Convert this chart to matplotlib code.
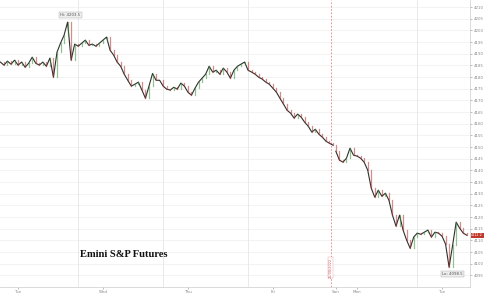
import matplotlib
matplotlib.use("Agg")
import matplotlib.pyplot as plt
import numpy as np

# ---- data (hours since Tuesday 00:00, weekend collapsed) ----
hours_week1 = np.arange(-5, 90, 1.0)          # Mon 19:00 -> Fri 17:00
prices_week1 = [
    4186.4, 4185.1, 4186.8, 4185.5, 4187.2, 4185.1, 4186.4, 4184.2, 4185.9, 4188.5,
    4185.9, 4185.1, 4186.4, 4184.6, 4188.1, 4179.9, 4190.6, 4194.5, 4197.9, 4203.5,
    4187.2, 4194.1, 4193.2, 4194.5, 4195.8, 4193.6, 4194.1, 4193.2, 4194.5, 4195.8,
    4197.1, 4191.5, 4189.4, 4186.4, 4184.6, 4181.2, 4178.6, 4176.1, 4176.9, 4177.8,
    4174.4, 4170.9, 4176.1, 4181.5, 4178.6, 4178.6, 4176.1, 4174.8, 4174.4, 4175.6,
    4174.8, 4177.4, 4176.1, 4173.5, 4172.2, 4175.2, 4177.8, 4179.5, 4181.2, 4184.6,
    4182.1, 4182.9, 4181.2, 4183.8, 4182.1, 4179.5, 4182.9, 4184.6, 4185.5, 4186.4,
    4182.9, 4182.1, 4181.2, 4179.9, 4179.1, 4177.8, 4176.9, 4175.2, 4173.5, 4170.9,
    4168.4, 4165.8, 4164.5, 4162.4, 4164.1, 4162.8, 4160.6, 4158.9, 4156.4, 4157.6,
    4155.5, 4154.2, 4152.5, 4151.6, 4150.8,
]
hours_week2 = np.arange(89.8, 127.0, 1.0)     # Sun 18:00 -> Tue
prices_week2 = [
    4148.2, 4144.4, 4143.5, 4145.2, 4149.5, 4146.5, 4146.1, 4145.2, 4143.5, 4140.1,
    4132.4, 4128.5, 4131.5, 4128.9, 4130.2, 4127.2, 4120.8, 4116.1, 4120.8, 4114.4,
    4110.1, 4106.6, 4111.4, 4113.1, 4112.6, 4113.5, 4114.4, 4111.4, 4113.5, 4113.1,
    4111.8, 4108.4, 4098.5, 4107.9, 4117.8, 4115.2, 4113.1, 4112.2,
]
tick_hours = [0, 24, 48, 72, 89.8, 95.8, 119.8]
tick_labels = ["Tue", "Wed", "Thu", "Fri", "Sun", "Mon", "Tue"]
session_close_hours = [17, 41, 65, 112.8]
weekend_marker_hour = 88.3
hi_label = "Hi: 4203.5"
lo_label = "Lo: 4098.5"
last_price = 4112.2
title = "Emini S&P Futures"

x = np.concatenate([hours_week1, hours_week2])
y = np.array(prices_week1 + prices_week2)

fig = plt.figure(figsize=(4.85, 2.95), dpi=100)
ax = fig.add_axes([0.0, 0.027, 0.969, 0.973])
ax.set_xlim(-5.1, 127.7)
ax.set_ylim(4090, 4213)

# grid
for yt in np.arange(4095, 4213, 5):
    ax.axhline(yt, color="#f1f1f1", lw=0.6, zorder=0)
for xv in session_close_hours:
    ax.axvline(xv, color="#e6e6e6", lw=0.6, zorder=0)
ax.axvline(weekend_marker_hour, color="#e08080", lw=0.6, ls=(0, (2, 2)), zorder=1)
ax.text(weekend_marker_hour, 4094, "26/08/2022", rotation=90, fontsize=2.5,
        color="#d06060", ha="center", va="bottom", zorder=3,
        bbox=dict(boxstyle="square,pad=0.2", fc="white", ec="#e0a0a0", lw=0.3))

# price line
for xs, ys in ((hours_week1, prices_week1), (hours_week2, prices_week2)):
    ax.plot(xs, ys, color="#2f2f2f", lw=0.8, zorder=2)
# candle tints
for i in range(1, len(x)):
    c = "#3c8f3c" if y[i] >= y[i - 1] else "#b03030"
    ax.plot([x[i], x[i]], [y[i - 1], y[i]], color=c, lw=0.9, alpha=0.55, zorder=2)

# hi / lo labels
ihi = int(np.argmax(y)); ilo = int(np.argmin(y))
ax.text(x[ihi] + 0.8, y[ihi] + 3.2, hi_label, fontsize=2.8, color="#555555",
        ha="center", va="center",
        bbox=dict(boxstyle="square,pad=0.3", fc="#eeeeee", ec="#aaaaaa", lw=0.3))
ax.text(x[ilo] + 1.0, y[ilo] - 3.0, lo_label, fontsize=2.8, color="#555555",
        ha="center", va="center",
        bbox=dict(boxstyle="square,pad=0.3", fc="#eeeeee", ec="#aaaaaa", lw=0.3))

# title text
ax.text(17.5, 4104, title, fontsize=7.6, fontweight="bold",
        family="Liberation Serif", color="#111111", ha="left", va="center")

# axes styling
for s in ("left", "top"):
    ax.spines[s].set_visible(False)
ax.spines["right"].set_color("#cccccc"); ax.spines["right"].set_linewidth(0.5)
ax.spines["bottom"].set_color("#cccccc"); ax.spines["bottom"].set_linewidth(0.5)
ax.yaxis.tick_right()
ax.set_yticks(np.arange(4095, 4213, 5))
ax.set_yticklabels([f"{v:.0f}" for v in np.arange(4095, 4213, 5)])
ax.tick_params(axis="y", labelsize=2.8, colors="#888888", length=1.5, width=0.4, pad=1)
ax.set_xticks(tick_hours)
ax.set_xticklabels(tick_labels)
ax.tick_params(axis="x", labelsize=3.0, colors="#888888", length=1.5, width=0.4, pad=0.5)

# last price marker
ax.annotate(f"{last_price:.1f}", xy=(1.0, last_price), xycoords=("axes fraction", "data"),
            xytext=(1.0, 0), textcoords="offset points", fontsize=2.4, color="white",
            ha="left", va="center", annotation_clip=False,
            bbox=dict(boxstyle="square,pad=0.2", fc="#c0392b", ec="none"))

fig.savefig("out.png", dpi=100)
